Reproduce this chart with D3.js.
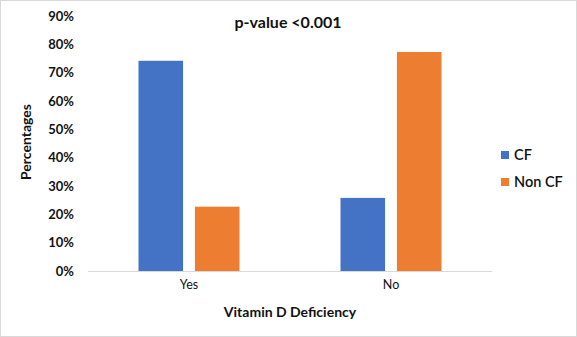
<!DOCTYPE html>
<html><head><meta charset="utf-8">
<script src="https://cdn.jsdelivr.net/npm/d3@7"></script>
<style>
body{margin:0;background:#fff;}
svg text{font-family:Lato,"Open Sans",sans-serif;fill:#111;}
</style></head>
<body><svg id="c" width="577" height="337"></svg>
<script>
const categories = ["Yes","No"];
const seriesNames = ["CF","Non CF"];
const cfValues = [74.2, 25.8];
const nonCfValues = [22.7, 77.3];
const yTicks = [0,10,20,30,40,50,60,70,80,90];
const colors = ["#4472C4","#ED7D31"];

const svg = d3.select("#c");
svg.append("rect").attr("x",0.5).attr("y",0.5).attr("width",576).attr("height",336)
  .attr("fill","#fff").attr("stroke","#d9d9d9");

const plotL=88, plotR=492, plotT=16, plotB=271;
const y = d3.scaleLinear().domain([0,90]).range([plotB,plotT]);
const x0 = d3.scaleBand().domain(categories).range([plotL,plotR]).paddingInner(0.5).paddingOuter(0.25);
const x1 = d3.scaleBand().domain(seriesNames).range([0,x0.bandwidth()]).paddingInner(0.21);

const data = categories.map((c,i)=>({cat:c, vals:[cfValues[i], nonCfValues[i]]}));

const g = svg.append("g");
g.selectAll("g.cat").data(data).join("g")
  .attr("transform",d=>`translate(${x0(d.cat)},0)`)
  .selectAll("rect").data(d=>d.vals.map((v,j)=>({s:seriesNames[j],v,j}))).join("rect")
  .attr("x",d=>x1(d.s)).attr("width",x1.bandwidth())
  .attr("y",d=>y(d.v)).attr("height",d=>plotB-y(d.v))
  .attr("fill",d=>colors[d.j]);

svg.append("line").attr("x1",plotL).attr("x2",plotR).attr("y1",plotB+0.5).attr("y2",plotB+0.5)
  .attr("stroke","#d9d9d9").attr("stroke-width",1);

const yAxis = d3.axisLeft(y).tickValues(yTicks).tickFormat(d=>d+"%").tickSize(0).tickPadding(0);
const ya = svg.append("g").attr("transform",`translate(74,0)`).call(yAxis);
ya.select(".domain").remove();
ya.selectAll("text").attr("font-size",13).attr("font-weight","bold")
  .style("font-family","Lato,sans-serif").attr("fill","#111");

const xAxis = d3.axisBottom(x0).tickSize(0).tickPadding(0);
const xa = svg.append("g").attr("transform",`translate(0,${plotB+9})`).call(xAxis);
xa.select(".domain").remove();
xa.selectAll("text").attr("font-size",12.5).attr("fill","#222").attr("dy","0.75em");

svg.append("text").attr("x",288).attr("y",28).attr("text-anchor","middle")
  .attr("font-size",16).attr("font-weight","bold").text("p-value <0.001");

svg.append("text").attr("x",290).attr("y",317).attr("text-anchor","middle")
  .attr("font-size",14).attr("font-weight","bold").text("Vitamin D Deficiency");
svg.append("text").attr("transform","translate(31,142) rotate(-90)").attr("text-anchor","middle")
  .attr("font-size",14).attr("font-weight","bold").text("Percentages");

const lg = svg.append("g");
seriesNames.forEach((s,i)=>{
  const yy = 151 + i*27;
  lg.append("rect").attr("x",501).attr("y",yy).attr("width",8).attr("height",8).attr("fill",colors[i]);
  lg.append("text").attr("x",514).attr("y",yy+8.5).attr("font-size",14.5).attr("font-weight",600).text(s);
});
</script></body></html>
